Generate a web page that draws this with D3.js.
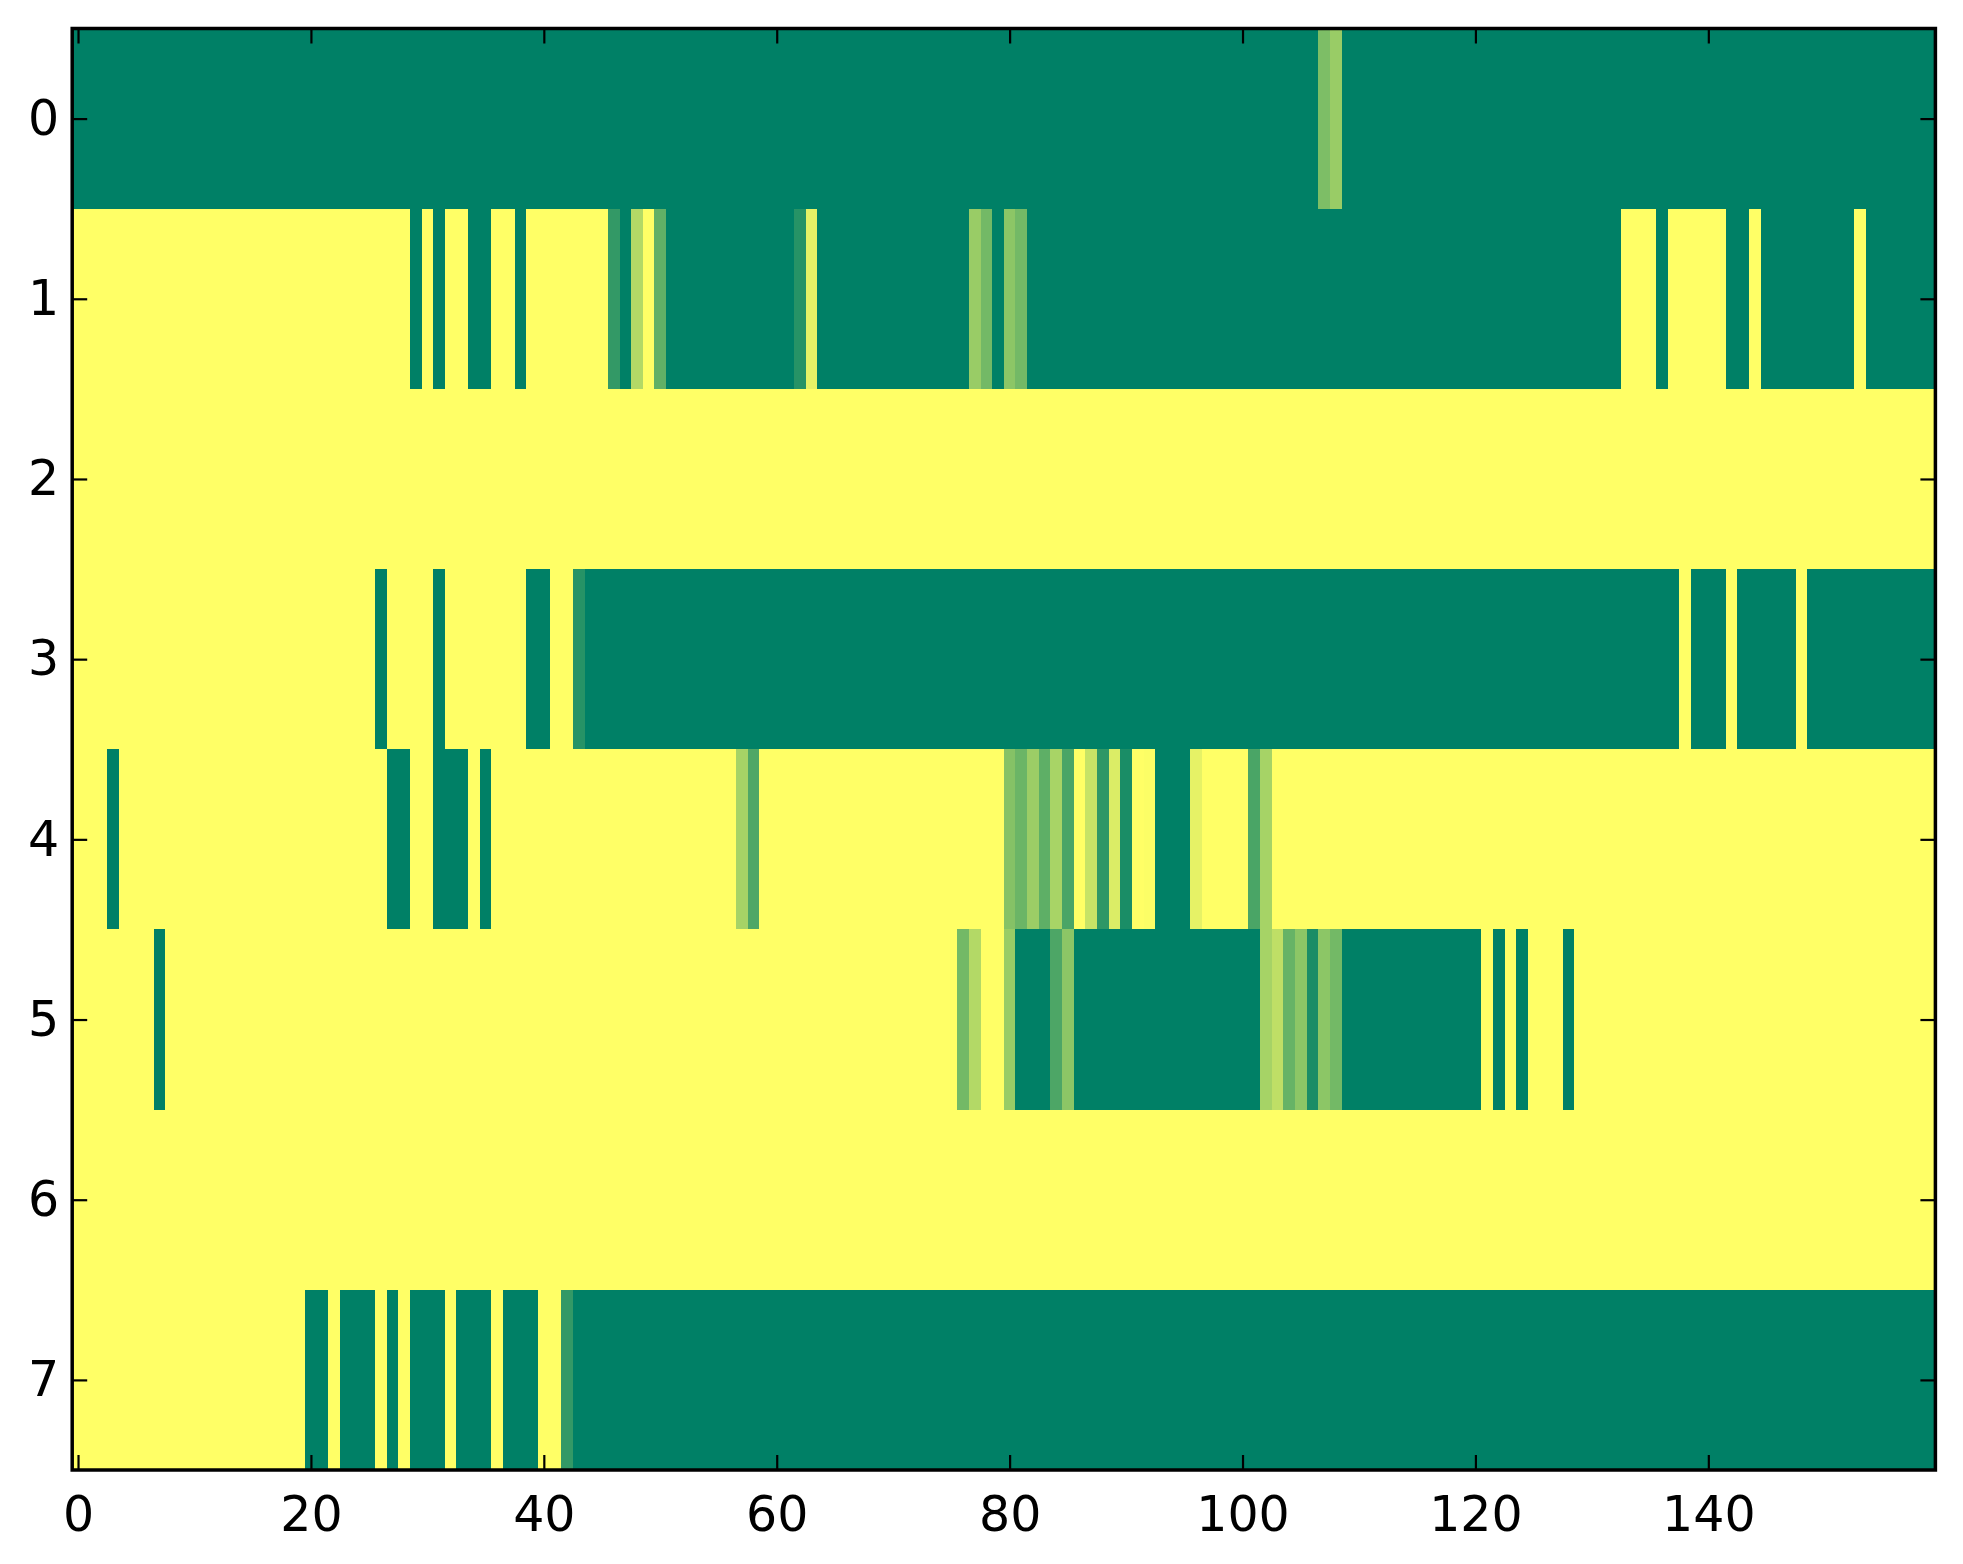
<!DOCTYPE html>
<html>
<head>
<meta charset="utf-8">
<script src="https://cdn.jsdelivr.net/npm/d3@7"></script>
<style>
  body { margin: 0; background: #fff; }
  svg { display: block; }
  .tick text { font-family: "DejaVu Sans", sans-serif; font-size: 49px; fill: #000; }
</style>
</head>
<body>
<div id="chart"></div>
<script>
// heatmap: 8 rows x 160 columns, values 0 (green) .. 1 (yellow), matplotlib "summer"
// each row kept as runs: [firstCol, lastCol, value]
const NCOLS = 160;
const rowLabels = [0, 1, 2, 3, 4, 5, 6, 7];
const xTicks = [0, 20, 40, 60, 80, 100, 120, 140];

const row0 = [[0,106,0],[107,107,0.49],[108,108,0.6],[109,159,0]];
const row1 = [[0,28,1],[29,29,0],[30,30,1],[31,31,0],[32,33,1],[34,35,0],[36,37,1],[38,38,0],
  [39,45,1],[46,46,0.2],[47,47,0],[48,48,0.7],[49,49,1],[50,50,0.38],[51,61,0],[62,62,0.15],
  [63,63,0.9],[64,76,0],[77,77,0.6],[78,78,0.45],[79,79,0],[80,80,0.55],[81,81,0.45],[82,132,0],
  [133,135,1],[136,136,0],[137,141,1],[142,143,0],[144,144,1],[145,152,0],[153,153,1],[154,159,0]];
const row2 = [[0,159,1]];
const row3 = [[0,25,1],[26,26,0],[27,30,1],[31,31,0],[32,38,1],[39,40,0],[41,42,1],[43,43,0.15],
  [44,137,0],[138,138,1],[139,141,0],[142,142,1],[143,147,0],[148,148,1],[149,159,0]];
const row4 = [[0,2,1],[3,3,0],[4,26,1],[27,28,0],[29,30,1],[31,33,0],[34,34,1],[35,35,0],[36,56,1],
  [57,57,0.65],[58,58,0.31],[59,79,1],[80,80,0.52],[81,81,0.42],[82,82,0.61],[83,83,0.37],
  [84,84,0.66],[85,85,0.29],[86,86,1],[87,87,0.78],[88,88,0.18],[89,89,0.86],[90,90,0.1],
  [91,91,1],[92,92,0.99],[93,95,0],[96,96,0.9],[97,100,1],[101,101,0.29],[102,102,0.65],[103,159,1]];
const row5 = [[0,6,1],[7,7,0],[8,75,1],[76,76,0.45],[77,77,0.7],[78,79,1],[80,80,0.6],[81,83,0],
  [84,84,0.3],[85,85,0.55],[86,101,0],[102,102,0.65],[103,103,0.75],[104,104,0.4],[105,105,0.55],
  [106,106,0.1],[107,107,0.55],[108,108,0.45],[109,120,0],[121,121,1],[122,122,0],[123,123,1],
  [124,124,0],[125,127,1],[128,128,0],[129,159,1]];
const row6 = [[0,159,1]];
const row7 = [[0,19,1],[20,21,0],[22,22,1],[23,25,0],[26,26,1],[27,27,0],[28,28,1],[29,31,0],
  [32,32,1],[33,35,0],[36,36,1],[37,39,0],[40,41,1],[42,42,0.2],[43,159,0]];

const rows = [row0, row1, row2, row3, row4, row5, row6, row7];

const WIDTH = 1963, HEIGHT = 1564;
const M = { left: 72.2, right: 1935.4, top: 28.5, bottom: 1470 };

const x = d3.scaleLinear().domain([-0.5, NCOLS - 0.5]).range([M.left, M.right]);
const y = d3.scaleLinear().domain([-0.5, rowLabels.length - 0.5]).range([M.top, M.bottom]);
const color = d3.scaleLinear().domain([0, 1]).range(["#008066", "#ffff66"]);

const svg = d3.select("#chart").append("svg")
  .attr("width", WIDTH).attr("height", HEIGHT);

// cells (one rect per run)
const cells = rows.flatMap((runs, r) => runs.map(([a, b, v]) => ({ r, a, b, v })));
svg.append("g").attr("class", "cells")
  .selectAll("rect").data(cells).join("rect")
  .attr("x", d => x(d.a - 0.5))
  .attr("width", d => x(d.b + 0.5) - x(d.a - 0.5))
  .attr("y", d => y(d.r - 0.5))
  .attr("height", d => y(d.r + 0.5) - y(d.r - 0.5))
  .attr("fill", d => color(d.v))
  .attr("shape-rendering", "crispEdges");

// ticks, pointing inward on all four sides (classic matplotlib look)
const TICK = 15;
const styleAxis = g => {
  g.select(".domain").remove();
  g.selectAll(".tick line").attr("stroke", "#000").attr("stroke-width", 2.2);
};

svg.append("g").attr("transform", `translate(0,${M.bottom})`)
  .call(d3.axisBottom(x).tickValues(xTicks).tickSize(-TICK).tickPadding(26).tickFormat(d3.format("d")))
  .call(styleAxis);
svg.append("g").attr("transform", `translate(0,${M.top})`)
  .call(d3.axisTop(x).tickValues(xTicks).tickSize(-TICK).tickFormat(""))
  .call(styleAxis);
svg.append("g").attr("transform", `translate(${M.left},0)`)
  .call(d3.axisLeft(y).tickValues(rowLabels).tickSize(-TICK).tickPadding(13).tickFormat(d3.format("d")))
  .call(styleAxis);
svg.append("g").attr("transform", `translate(${M.right},0)`)
  .call(d3.axisRight(y).tickValues(rowLabels).tickSize(-TICK).tickFormat(""))
  .call(styleAxis);

svg.selectAll(".tick text").attr("font-size", null);
svg.selectAll("g").attr("font-size", null).attr("font-family", null);

// frame
svg.append("rect")
  .attr("x", M.left).attr("y", M.top)
  .attr("width", M.right - M.left).attr("height", M.bottom - M.top)
  .attr("fill", "none").attr("stroke", "#000").attr("stroke-width", 3.5);
</script>
</body>
</html>
